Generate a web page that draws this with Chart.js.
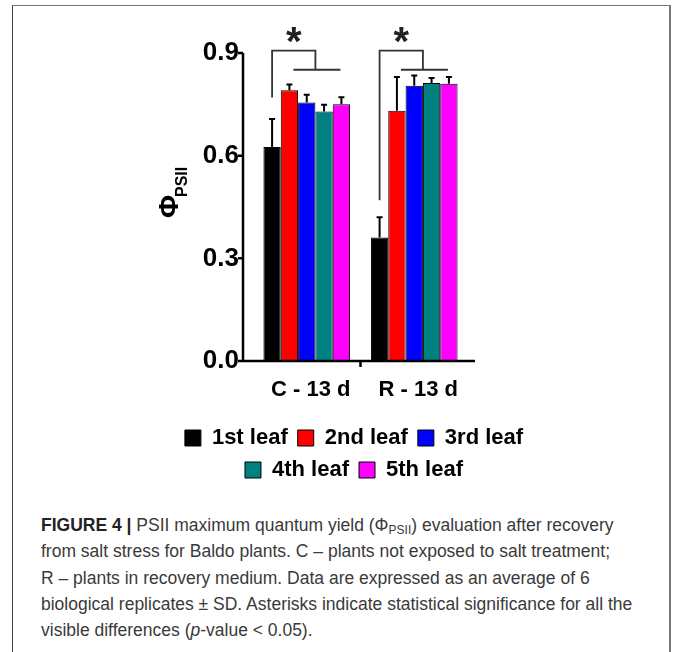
<!DOCTYPE html>
<html>
<head>
<meta charset="utf-8">
<script src="https://cdn.jsdelivr.net/npm/chart.js@4"></script>
<style>
html, body { margin: 0; padding: 0; background: #fff; }
body { width: 673px; height: 652px; position: relative; overflow: hidden; }
#frame { position: absolute; left: 12px; top: 5px; width: 656px; height: 700px;
  border-left: 1.5px solid #444; border-top: 1.5px solid #777; border-right: 2px solid #777; }
#wrap { position: absolute; left: 154px; top: 0; width: 400px; height: 491px; }
#caption { position: absolute; left: 41px; top: 512px; white-space: nowrap;
  font-family: "Liberation Sans", Arial, sans-serif; font-size: 17.5px; line-height: 26.3px; color: #3a3a3a; }
#caption b { color: #222; }
#caption sub { font-size: 12px; vertical-align: -3px; line-height: 0; }
</style>
</head>
<body>
<div id="frame"></div>
<div id="wrap"><canvas id="myChart"></canvas></div>
<div id="caption">
<b>FIGURE 4 |</b> PSII maximum quantum yield (Φ<sub>PSII</sub>) evaluation after recovery<br>
from salt stress for Baldo plants. C – plants not exposed to salt treatment;<br>
R – plants in recovery medium. Data are expressed as an average of 6<br>
biological replicates ± SD. Asterisks indicate statistical significance for all the<br>
visible differences (<i>p</i>-value &lt; 0.05).
</div>
<script>
const categories = ['C - 13 d', 'R - 13 d'];
const leafNames = ['1st leaf', '2nd leaf', '3rd leaf', '4th leaf', '5th leaf'];
const leaf1 = [0.625, 0.361];
const leaf2 = [0.791, 0.731];
const leaf3 = [0.755, 0.804];
const leaf4 = [0.729, 0.812];
const leaf5 = [0.750, 0.810];
const sd1 = [0.082, 0.059];
const sd2 = [0.017, 0.099];
const sd3 = [0.023, 0.030];
const sd4 = [0.020, 0.015];
const sd5 = [0.021, 0.020];
const yTicks = [0.0, 0.3, 0.6, 0.9];
// significance brackets: where the left leg starts, top line, lower line
const bracketStart = [0.77, 0.47];
const bracketTop = 0.907;
const bracketLow = 0.851;

const colors = ['#000000', '#ff0000', '#0000ff', '#008080', '#ff00ff'];
const values = [leaf1, leaf2, leaf3, leaf4, leaf5];
const sds = [sd1, sd2, sd3, sd4, sd5];
const FONT = '"Liberation Sans", Arial, sans-serif';

const marks = {
    id: 'marks',
    afterDatasetsDraw(chart) {
        const ctx = chart.ctx;
        const y = chart.scales.y;
        const x = chart.scales.x;
        const area = chart.chartArea;
        ctx.save();

        // error bars (upper only)
        ctx.strokeStyle = '#000';
        ctx.lineWidth = 2;
        chart.data.datasets.forEach((ds, di) => {
            chart.getDatasetMeta(di).data.forEach((bar, i) => {
                const top = y.getPixelForValue(ds.data[i] + sds[di][i]);
                ctx.beginPath();
                ctx.moveTo(bar.x, bar.y);
                ctx.lineTo(bar.x, top);
                ctx.moveTo(bar.x - 3, top);
                ctx.lineTo(bar.x + 3, top);
                ctx.stroke();
            });
        });

        // axes
        const x0 = area.left - 10, x1 = area.right + 7;
        const yb = y.getPixelForValue(0);
        ctx.lineWidth = 2.5;
        ctx.beginPath();
        ctx.moveTo(x0, y.getPixelForValue(yTicks[yTicks.length - 1]));
        ctx.lineTo(x0, yb);
        ctx.lineTo(x1, yb);
        yTicks.forEach(v => {
            const py = y.getPixelForValue(v);
            ctx.moveTo(x0 - 5, py);
            ctx.lineTo(x0, py);
        });
        const mid = x.getPixelForValue(0.5);
        ctx.moveTo(mid, yb);
        ctx.lineTo(mid, yb + 6);
        ctx.stroke();

        // brackets + asterisks
        const m0 = chart.getDatasetMeta(0).data;
        const m1 = chart.getDatasetMeta(1).data;
        const m4 = chart.getDatasetMeta(4).data;
        ctx.strokeStyle = '#333';
        ctx.lineWidth = 1.8;
        ctx.fillStyle = '#222';
        ctx.font = 'bold 40px ' + FONT;
        ctx.textAlign = 'center';
        ctx.textBaseline = 'alphabetic';
        categories.forEach((c, i) => {
            const xL = m0[i].x, xA = m1[i].x + 4, xB = m4[i].x - 1;
            const xM = (m1[i].x + m4[i].x) / 2;
            const yTop = y.getPixelForValue(bracketTop);
            const yLow = y.getPixelForValue(bracketLow);
            ctx.beginPath();
            ctx.moveTo(xL, y.getPixelForValue(bracketStart[i]));
            ctx.lineTo(xL, yTop);
            ctx.lineTo(xM, yTop);
            ctx.lineTo(xM, yLow);
            ctx.moveTo(xA, yLow);
            ctx.lineTo(xB, yLow);
            ctx.stroke();
            ctx.fillText('*', (xL + xM) / 2, yTop + 4);
        });
        ctx.restore();
    },
    afterDraw(chart) {
        // y axis title: Phi with PSII subscript, rotated
        const ctx = chart.ctx;
        ctx.save();
        ctx.translate(178 - 154, 218);
        ctx.rotate(-Math.PI / 2);
        ctx.fillStyle = '#000';
        ctx.textAlign = 'left';
        ctx.textBaseline = 'alphabetic';
        ctx.font = 'bold 28px ' + FONT;
        ctx.fillText('Φ', 0, 0);
        const w = ctx.measureText('Φ').width;
        ctx.font = 'bold 16px ' + FONT;
        ctx.fillText('PSII', w - 2, 8.5);
        ctx.restore();
    }
};

const data = {
    labels: categories,
    datasets: leafNames.map((name, i) => ({
        label: name,
        data: values[i],
        backgroundColor: colors[i],
        borderColor: '#000',
        borderWidth: 1,
        barPercentage: 1,
        categoryPercentage: 0.806
    }))
};

const config = {
    type: 'bar',
    data: data,
    options: {
        responsive: true,
        maintainAspectRatio: false,
        animation: false,
        layout: { padding: { top: 53, bottom: 0, left: 0, right: 0 } },
        plugins: {
            legend: {
                position: 'bottom',
                labels: {
                    color: '#000',
                    boxWidth: 16,
                    boxHeight: 16,
                    padding: 10,
                    font: { family: FONT, size: 22, weight: 'bold' }
                }
            },
            tooltip: { enabled: false }
        },
        scales: {
            x: {
                grid: { display: false, drawTicks: false },
                border: { display: false },
                ticks: {
                    color: '#000',
                    padding: 16,
                    labelOffset: 4,
                    font: { family: FONT, size: 22, weight: 'bold' }
                },
                afterFit(s) { s.height = 56; }
            },
            y: {
                min: 0,
                max: 0.9,
                grid: { display: false, drawTicks: false },
                border: { display: false },
                ticks: {
                    color: '#000',
                    padding: 14,
                    font: { family: FONT, size: 26, weight: 'bold' },
                    callback: v => Number(v).toFixed(1)
                },
                afterBuildTicks(s) { s.ticks = yTicks.map(v => ({ value: v })); },
                afterFit(s) { s.width = 99; }
            },
            yR: {
                position: 'right',
                grid: { display: false, drawTicks: false },
                border: { display: false },
                ticks: { display: false },
                afterFit(s) { s.width = 86; }
            }
        }
    },
    plugins: [marks]
};

var myChart = new Chart(document.getElementById('myChart'), config);
</script>
</body>
</html>
